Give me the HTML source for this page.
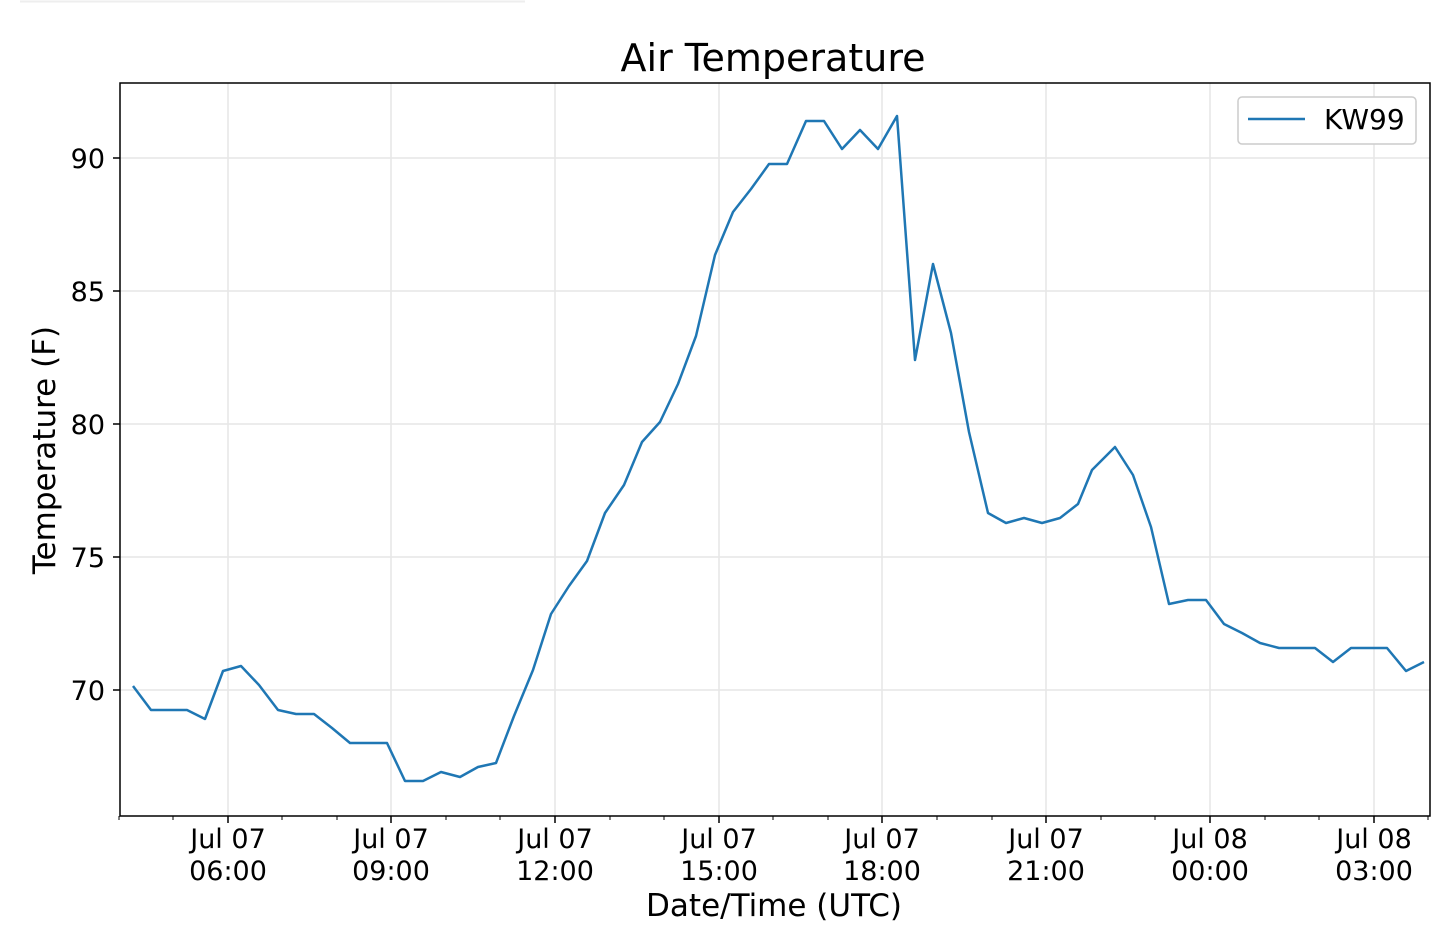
<!DOCTYPE html>
<html><head><style>
html,body{margin:0;padding:0;background:#fff;}
svg{display:block;font-family:"DejaVu Sans","Liberation Sans",sans-serif;}
</style></head><body>
<svg width="1436" height="936" viewBox="0 0 1436 936">
<line x1="20" y1="1.5" x2="525" y2="1.5" stroke="#eee" stroke-width="2"/>
<g stroke="#e6e6e6" stroke-width="1.5">
<line x1="120" y1="158" x2="1430" y2="158"/><line x1="120" y1="291" x2="1430" y2="291"/>
<line x1="120" y1="424" x2="1430" y2="424"/><line x1="120" y1="557" x2="1430" y2="557"/>
<line x1="120" y1="690" x2="1430" y2="690"/>
<line x1="228" y1="83" x2="228" y2="816"/><line x1="391" y1="83" x2="391" y2="816"/>
<line x1="555" y1="83" x2="555" y2="816"/><line x1="719" y1="83" x2="719" y2="816"/>
<line x1="882" y1="83" x2="882" y2="816"/><line x1="1046" y1="83" x2="1046" y2="816"/>
<line x1="1210" y1="83" x2="1210" y2="816"/><line x1="1374" y1="83" x2="1374" y2="816"/>
</g>
<polyline fill="none" stroke="#1f77b4" stroke-width="2.5" stroke-linejoin="round" points="133,686 151,710 169,710 187,710 205,719 223,671 241,666 259,685 278,710 296,714 314,714 332,728 350,743 369,743 387,743 405,781 423,781 441,772 460,777 478,767 496,763 514,716 533,670 551,614 569,586 587,561 605,513 624,485 642,442 660,422 678,384 696,336 715,255 733,212 751,189 769,164 787,164 806,121 824,121 842,149 860,130 878,149 897,116 915,360 933,264 951,333 969,432 988,513 1006,523 1024,518 1042,523 1060,518 1078,504 1092,470 1115,447 1133,475 1151,527 1169,604 1188,600 1206,600 1224,624 1242,633 1260,643 1279,648 1297,648 1315,648 1333,662 1351,648 1369,648 1387,648 1406,671 1424,662"/>
<rect x="120" y="83" width="1310" height="733" fill="none" stroke="#000" stroke-width="1.5"/>
<g stroke="#000" stroke-width="1.5">
<line x1="113" y1="158" x2="120" y2="158"/><line x1="113" y1="291" x2="120" y2="291"/>
<line x1="113" y1="424" x2="120" y2="424"/><line x1="113" y1="557" x2="120" y2="557"/>
<line x1="113" y1="690" x2="120" y2="690"/>
<line x1="228" y1="816" x2="228" y2="823"/><line x1="391" y1="816" x2="391" y2="823"/>
<line x1="555" y1="816" x2="555" y2="823"/><line x1="719" y1="816" x2="719" y2="823"/>
<line x1="882" y1="816" x2="882" y2="823"/><line x1="1046" y1="816" x2="1046" y2="823"/>
<line x1="1210" y1="816" x2="1210" y2="823"/><line x1="1374" y1="816" x2="1374" y2="823"/>
</g>
<g stroke="#000" stroke-width="1">
<line x1="119" y1="816" x2="119" y2="820"/><line x1="173" y1="816" x2="173" y2="820"/><line x1="282" y1="816" x2="282" y2="820"/><line x1="337" y1="816" x2="337" y2="820"/>
<line x1="446" y1="816" x2="446" y2="820"/><line x1="500" y1="816" x2="500" y2="820"/><line x1="610" y1="816" x2="610" y2="820"/><line x1="664" y1="816" x2="664" y2="820"/>
<line x1="773" y1="816" x2="773" y2="820"/><line x1="828" y1="816" x2="828" y2="820"/><line x1="937" y1="816" x2="937" y2="820"/><line x1="992" y1="816" x2="992" y2="820"/>
<line x1="1101" y1="816" x2="1101" y2="820"/><line x1="1155" y1="816" x2="1155" y2="820"/><line x1="1265" y1="816" x2="1265" y2="820"/><line x1="1319" y1="816" x2="1319" y2="820"/>
<line x1="1428" y1="816" x2="1428" y2="820"/>
</g>
<g font-size="27" text-anchor="end" fill="#000">
<text x="105" y="168">90</text><text x="105" y="301">85</text><text x="105" y="434">80</text>
<text x="105" y="567">75</text><text x="105" y="700">70</text>
</g>
<g font-size="27" text-anchor="middle" fill="#000">
<text x="228" y="848">Jul 07</text><text x="228" y="880">06:00</text>
<text x="391" y="848">Jul 07</text><text x="391" y="880">09:00</text>
<text x="555" y="848">Jul 07</text><text x="555" y="880">12:00</text>
<text x="719" y="848">Jul 07</text><text x="719" y="880">15:00</text>
<text x="882" y="848">Jul 07</text><text x="882" y="880">18:00</text>
<text x="1046" y="848">Jul 07</text><text x="1046" y="880">21:00</text>
<text x="1210" y="848">Jul 08</text><text x="1210" y="880">00:00</text>
<text x="1374" y="848">Jul 08</text><text x="1374" y="880">03:00</text>
<text x="774" y="916" font-size="31">Date/Time (UTC)</text>
<text x="773" y="71" font-size="38">Air Temperature</text>
<text transform="translate(55,450) rotate(-90)" font-size="31">Temperature (F)</text>
</g>
<rect x="1238" y="97" width="178" height="47" rx="4" fill="#fff" stroke="#ccc" stroke-width="1.5"/>
<line x1="1248" y1="119" x2="1305" y2="119" stroke="#1f77b4" stroke-width="2.5"/>
<text x="1324" y="129" font-size="28" fill="#000">KW99</text>
</svg>
</body></html>
